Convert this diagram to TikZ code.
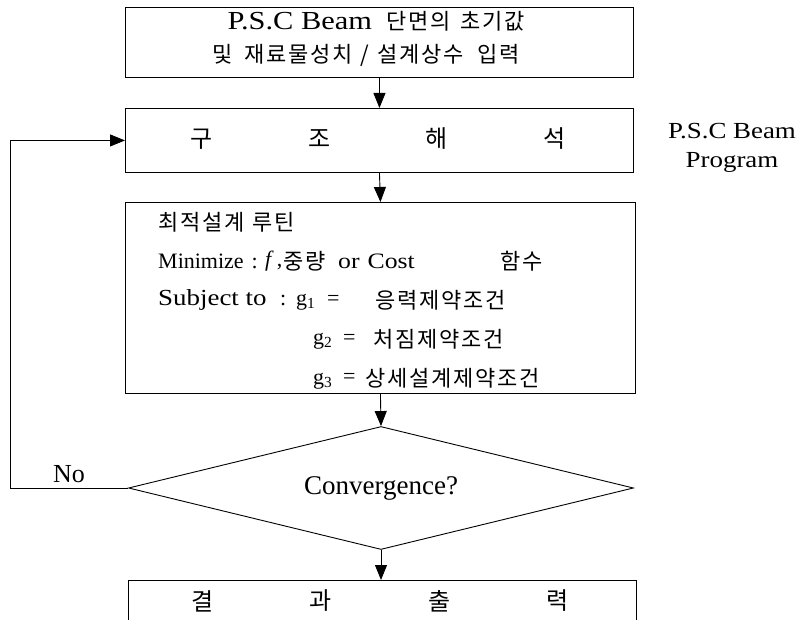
\documentclass[tikz,border=0pt]{standalone}
\usepackage{fontspec}
\setmainfont{Liberation Serif}
\newfontfamily\kr[LetterSpace=8]{Noto Sans CJK KR}
\newfontfamily\krw[LetterSpace=4]{Noto Sans CJK KR}
\newfontfamily\wide[FakeStretch=1.17]{Liberation Serif}
\usetikzlibrary{arrows.meta,shapes.geometric}
\tikzset{
  boxnode/.style={draw, line width=0.9pt, inner sep=0pt, anchor=north west},
  arr/.style={line width=0.9pt, -{Triangle[length=15pt,width=12pt]}},
  txt/.style={inner sep=0pt},
  lt/.style={txt, anchor=west},
  krbig/.style={font=\krw\fontsize{24}{28}\selectfont},
  krmid/.style={font=\kr\fontsize{22}{26}\selectfont},
  latmid/.style={font=\fontsize{22}{26}\selectfont},
  latwide/.style={font=\wide\fontsize{22}{26}\selectfont},
  latlab/.style={font=\wide\fontsize{23}{27}\selectfont},
}
\begin{document}
\begin{tikzpicture}[x=1pt,y=-1pt]
\useasboundingbox (0,0) rectangle (801,620);
\clip (0,0) rectangle (801,620);

% boxes
\node[boxnode, minimum width=508pt, minimum height=70pt] (b1) at (125,7) {};
\node[boxnode, minimum width=508pt, minimum height=64pt] (b2) at (125,108) {};
\node[boxnode, minimum width=510pt, minimum height=191pt] (b3) at (125,202) {};
\node[draw, line width=0.9pt, diamond, aspect=4.1, inner sep=0pt, minimum width=505pt, minimum height=123pt,
      font=\fontsize{27}{30}\selectfont] (dia) at (381,488) {Convergence?};
\node[boxnode, minimum width=508pt, minimum height=60pt] (b4) at (128,580) {};

% box 1 text
\node[txt] (t1a) at (376,21) {{\wide\fontsize{26}{28}\selectfont P.S.C Beam}\hspace{14pt}{\kr\fontsize{22}{26}\selectfont 단면의\hspace{10pt}초기값}};
\node[txt, font=\kr\fontsize{22}{26}\selectfont] (t1b) at (366,55) {및\hspace{12pt}재료물성치\hspace{8pt}/\hspace{8pt}설계상수\hspace{14pt}입력};

% box 2 text
\node[txt, krbig] (c1) at (202,139) {구};
\node[txt, krbig] (c2) at (320,139) {조};
\node[txt, krbig] (c3) at (437,139) {해};
\node[txt, krbig] (c4) at (555,139) {석};

% side label
\node[txt, latlab] (lab1) at (732,131) {P.S.C Beam};
\node[txt, latlab] (lab2) at (732,162) {Program};

% box 3 text
\node[lt, krmid] (r1) at (158,222) {최적설계\hspace{8pt}루틴};
\node[lt, latmid] (r2a) at (158,261) {Minimize\hspace{8pt}:};
\node[lt, latmid] (r2f) at (265,261) {\textit{f}\hspace{3pt},};
\node[lt, krmid] (r2b) at (283,261) {중량};
\node[lt, latwide] (r2c) at (338,261) {or\hspace{8pt}Cost};
\node[lt, krmid] (r2d) at (500,261) {함수};
\node[lt, font=\wide\fontsize{23}{27}\selectfont] (r3a) at (158,300) {Subject to};
\node[lt, latmid] (r3e) at (280,300) {:};
\node[lt, latmid] (r3b) at (296,302) {g\textsubscript{1}};
\node[lt, latmid] (r3c) at (327,300) {=};
\node[lt, krmid] (r3d) at (375,300) {응력제약조건};
\node[lt, latmid] (r4b) at (313,341) {g\textsubscript{2}};
\node[lt, latmid] (r4c) at (343,339) {=};
\node[lt, krmid] (r4d) at (373,339) {처짐제약조건};
\node[lt, latmid] (r5b) at (313,381) {g\textsubscript{3}};
\node[lt, latmid] (r5c) at (343,378) {=};
\node[lt, krmid] (r5d) at (365,378) {상세설계제약조건};

% box 4 text
\node[txt, krbig] (d1) at (203,601) {결};
\node[txt, krbig] (d2) at (321,601) {과};
\node[txt, krbig] (d3) at (440,601) {출};
\node[txt, krbig] (d4) at (558,601) {력};

% No label
\node[txt, font=\fontsize{26}{28}\selectfont] (no) at (69,474) {No};

% connectors
\draw[arr] (b1.south) -- (b2.north);
\draw[arr] (b2.south) -- (b3.north);
\draw[arr] (b3.south) -- (dia.north);
\draw[arr] (dia.south) -- (b4.north -| dia.south);
\coordinate (lp) at (10,488);
\draw[arr] (dia.west) -- (lp) |- (b2.west);
\end{tikzpicture}
\end{document}
